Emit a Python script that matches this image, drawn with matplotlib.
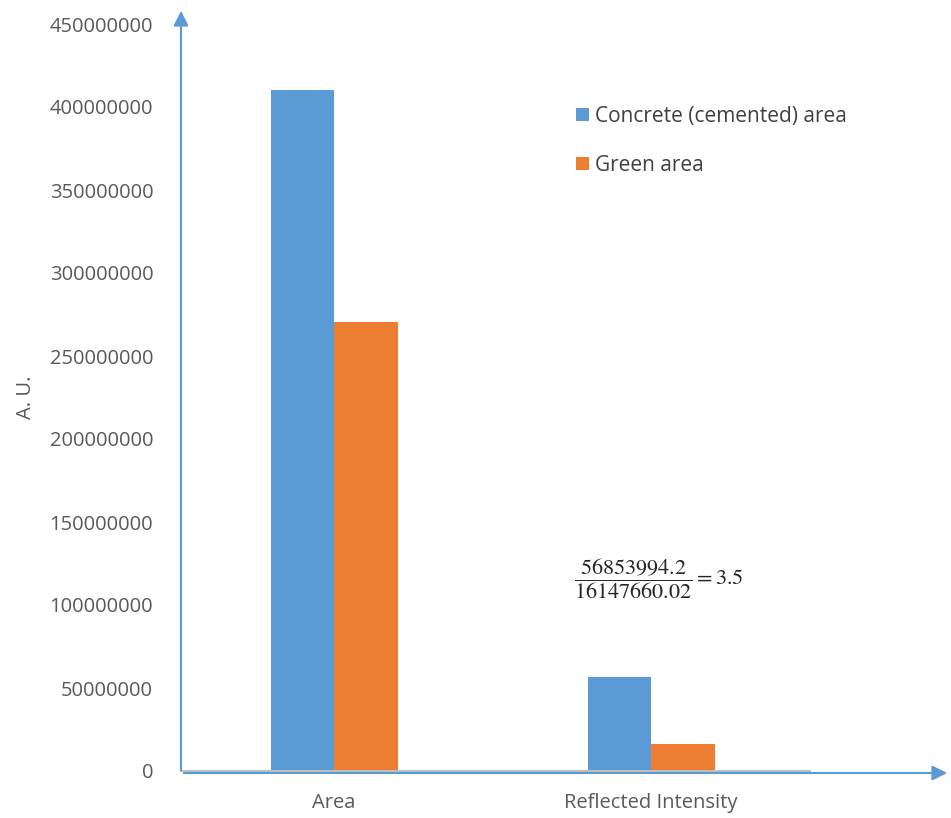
import matplotlib
matplotlib.use("Agg")
import matplotlib.pyplot as plt
import numpy as np

categories = ["Area", "Reflected Intensity"]
series_names = ["Concrete (cemented) area", "Green area"]
concrete_values = [410000000, 56853994.2]
green_values = [270500000, 16147660.02]
y_ticks = [0, 50000000, 100000000, 150000000, 200000000,
           250000000, 300000000, 350000000, 400000000, 450000000]

BLUE = "#5B9BD5"
ORANGE = "#ED7D31"
TEXT = "#595959"

W, H = 951, 818
fig = plt.figure(figsize=(W / 100, H / 100), dpi=100)
plt.rcParams["font.family"] = ["Open Sans", "DejaVu Sans"]

left, right, bottom, top = 181, 810, 771, 24
ax = fig.add_axes([left / W, 1 - bottom / H, (right - left) / W, (bottom - top) / H])

x = np.arange(len(categories))
bw = 0.2
ax.bar(x - bw / 2, concrete_values, bw, color=BLUE, label=series_names[0])
ax.bar(x + bw / 2, green_values, bw, color=ORANGE, label=series_names[1])

ax.set_xlim(-0.483, 1.501)
ax.set_ylim(0, 450000000)
ax.set_yticks(y_ticks)
ax.set_yticklabels([str(v) for v in y_ticks], fontsize=14.5, color=TEXT)
ax.set_xticks(x)
ax.set_xticklabels(categories, fontsize=14.5, color=TEXT)
ax.tick_params(axis="both", length=0)
ax.tick_params(axis="y", pad=20)
ax.tick_params(axis="x", pad=16)

for s in ["top", "right", "left"]:
    ax.spines[s].set_visible(False)
ax.spines["bottom"].set_color("#BFBFBF")
ax.spines["bottom"].set_linewidth(1.5)

ax.set_ylabel("A. U.", fontsize=14.5, color=TEXT, labelpad=10)

# axis arrows drawn in figure pixel space
fig.patches.append(matplotlib.patches.FancyArrowPatch(
    (left / W, 1 - 773 / H), (950 / W, 1 - 773 / H), transform=fig.transFigure,
    arrowstyle="-|>,head_length=6,head_width=3", color=BLUE, lw=1.5,
    mutation_scale=1.5))
fig.patches.append(matplotlib.patches.FancyArrowPatch(
    (left / W, 1 - 773 / H), (left / W, 1 - 8 / H), transform=fig.transFigure,
    arrowstyle="-|>,head_length=6,head_width=3", color=BLUE, lw=1.5,
    mutation_scale=1.5))

leg = ax.legend(loc="upper left", bbox_to_anchor=((576 - left) / (right - left), 1 - (106 - top) / (bottom - top)),
                frameon=False, fontsize=15, handlelength=0.6, handleheight=0.6,
                handletextpad=0.3, labelspacing=1.35, borderpad=0, borderaxespad=0)
for t in leg.get_texts():
    t.set_color("#404040")

ratio = concrete_values[1] / green_values[1]
plt.rcParams["mathtext.fontset"] = "stix"
fig.text(574 / W, 1 - 579 / H,
         r"$\dfrac{%s}{%s} = %.1f$" % (f"{concrete_values[1]}", f"{green_values[1]:.2f}", ratio),
         fontsize=16, color="#262626", ha="left", va="center")

fig.savefig("out.png", dpi=100, facecolor="white")
